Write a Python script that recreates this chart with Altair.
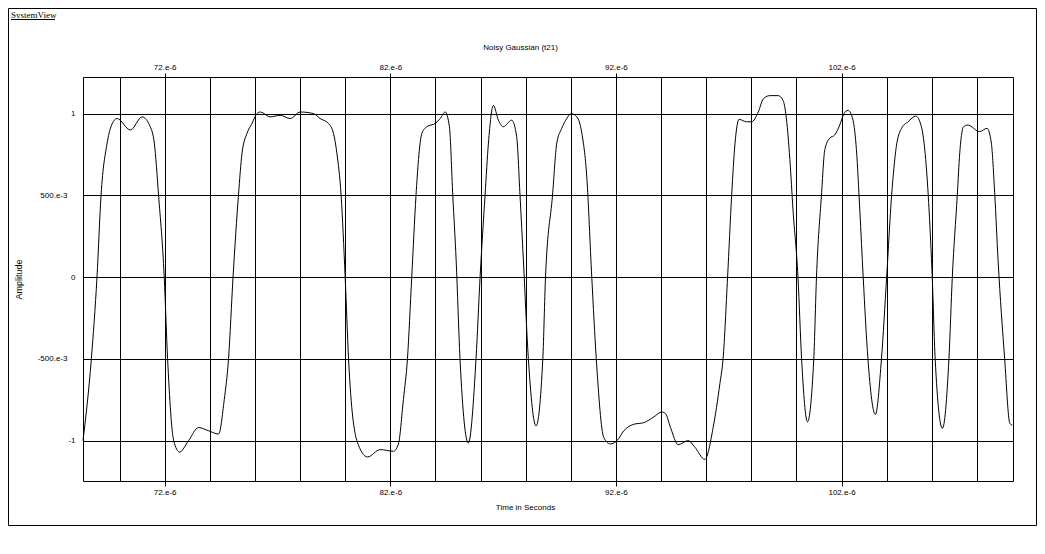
import altair as alt
import pandas as pd

# Time (in microseconds, i.e. value * 1e-6 s) and amplitude
times_us = [
    68.38, 68.75, 69.00, 69.18, 69.45, 69.62, 69.89, 70.48, 71.00, 71.36,
    71.54, 71.73, 71.98, 72.13, 72.40, 72.66, 73.06, 73.50, 73.95, 74.39,
    74.64, 74.83, 75.03, 75.27, 75.43, 75.65, 75.87, 76.09, 76.24, 76.68,
    77.12, 77.56, 78.01, 78.60, 78.89, 79.26, 79.48, 79.63, 79.82, 80.00,
    80.15, 80.52, 80.99, 81.55, 82.14, 82.36, 82.58, 82.76, 82.95, 83.14,
    83.25, 83.40, 83.62, 83.99, 84.21, 84.43, 84.62, 84.77, 84.92, 85.09,
    85.46, 85.80, 85.98, 86.20, 86.35, 86.57, 86.79, 87.01, 87.38, 87.60,
    87.75, 87.90, 88.12, 88.46, 88.76, 88.88, 89.19, 89.38, 89.60, 89.82,
    90.02, 90.27, 90.49, 90.71, 90.93, 91.13, 91.46, 91.75, 92.05, 92.35,
    92.79, 93.24, 93.68, 94.03, 94.20, 94.42, 94.76, 95.20, 95.50, 95.94,
    96.31, 96.61, 96.75, 96.95, 97.13, 97.28, 97.46, 97.79, 98.01, 98.31,
    98.53, 98.82, 99.19, 99.41, 99.53, 99.71, 99.85, 100.07, 100.23, 100.49,
    100.77, 100.89, 101.11, 101.26, 101.48, 101.70, 101.92, 102.11, 102.29, 102.51,
    102.66, 102.81, 102.96, 103.17, 103.50, 103.77, 104.00, 104.22, 104.43, 104.66,
    104.95, 105.29, 105.54, 105.73, 105.88, 106.02, 106.15, 106.47, 106.76, 106.91,
    107.13, 107.24, 107.41, 107.60, 108.12, 108.45, 108.64, 108.79, 108.94, 109.23,
    109.46, 109.57,
]
amplitude = [
    -1.00, -0.50, 0.00, 0.50, 0.82, 0.92, 0.97, 0.90, 0.98, 0.92,
    0.82, 0.50, 0.00, -0.50, -1.00, -1.07, -1.00, -0.92, -0.94, -0.96,
    -0.75, -0.50, 0.00, 0.50, 0.76, 0.88, 0.94, 1.00, 1.01, 0.98,
    0.99, 0.97, 1.01, 1.00, 0.97, 0.94, 0.88, 0.76, 0.50, 0.00,
    -0.50, -1.00, -1.10, -1.055, -1.065, -1.02, -0.75, -0.50, 0.00, 0.50,
    0.72, 0.88, 0.92, 0.94, 0.97, 1.01, 0.92, 0.50, 0.10, -0.50,
    -1.015, -0.50, 0.00, 0.50, 0.82, 1.05, 0.96, 0.92, 0.96, 0.86,
    0.50, 0.10, -0.50, -0.91, -0.50, 0.00, 0.50, 0.82, 0.91, 0.97,
    1.00, 0.98, 0.88, 0.61, 0.00, -0.50, -0.98, -1.02, -1.00, -0.94,
    -0.90, -0.89, -0.855, -0.825, -0.835, -0.92, -1.025, -1.00, -1.04, -1.115,
    -0.92, -0.65, -0.50, 0.00, 0.50, 0.82, 0.965, 0.95, 0.95, 1.01,
    1.09, 1.11, 1.11, 1.08, 1.00, 0.72, 0.41, 0.00, -0.50, -0.885,
    -0.50, 0.00, 0.50, 0.78, 0.85, 0.87, 0.93, 1.00, 1.02, 0.96,
    0.78, 0.41, 0.00, -0.50, -0.84, -0.50, 0.00, 0.50, 0.80, 0.91,
    0.95, 0.985, 0.92, 0.72, 0.41, 0.00, -0.50, -0.925, -0.50, 0.00,
    0.50, 0.76, 0.92, 0.93, 0.89, 0.91, 0.82, 0.51, 0.10, -0.50,
    -0.895, -0.905,
]

x_grid_us = [70, 72, 74, 76, 78, 80, 82, 84, 86, 88, 90, 92, 94, 96, 98, 100, 102, 104, 106, 108]
x_label_us = [72, 82, 92, 102]
y_ticks = [-1, -0.5, 0, 0.5, 1]
x_domain = [68.38, 109.6]
y_domain = [-1.247, 1.224]

FONT = "Liberation Sans"

df = pd.DataFrame({"t": times_us, "v": amplitude})

label_test = "indexof([" + ",".join(str(v) for v in x_label_us) + "], datum.value) >= 0"

xscale = alt.Scale(domain=x_domain, nice=False, zero=False)
yscale = alt.Scale(domain=y_domain, nice=False, zero=False)

y_axis = alt.Axis(
    values=y_ticks, grid=True, gridColor="black", gridOpacity=1, gridWidth=1,
    domain=False, ticks=False, tickSize=0,
    labelExpr="datum.value == 0.5 ? '500.e-3' : (datum.value == -0.5 ? '-500.e-3' : '' + datum.value)",
    labelPadding={"condition": {"test": "abs(datum.value) == 0.5", "value": 16}, "value": 8},
    labelFont=FONT, labelFontSize=8, labelColor="black", labelBaseline="middle",
    title="Amplitude", titleFont=FONT, titleFontSize=9, titleFontWeight="normal",
    titleColor="black", titleX=-65, titleY=202, titleBaseline="middle", titleAngle=270,
)

bottom_axis = alt.Axis(
    orient="bottom", values=x_grid_us, grid=True, gridColor="black", gridOpacity=1,
    gridWidth=1, domain=False, tickColor="black", tickSize=5, tickWidth=1,
    tickOpacity={"condition": {"test": label_test, "value": 1}, "value": 0},
    labelExpr=label_test + " ? datum.value + '.e-6' : ''",
    labelFont=FONT, labelFontSize=8, labelColor="black", labelPadding=2,
    labelOverlap=False, labelFlush=False,
    title="Time in Seconds", titleFont=FONT, titleFontSize=8, titleFontWeight="normal",
    titleColor="black", titleX=442, titleY=26, titleBaseline="middle",
)

top_axis = alt.Axis(
    orient="top", values=x_label_us, grid=False, domain=False,
    tickColor="black", tickSize=4, tickWidth=1,
    labelExpr="datum.value + '.e-6'",
    labelFont=FONT, labelFontSize=8, labelColor="black", labelPadding=2,
    labelOverlap=False, labelFlush=False,
    title="Noisy Gaussian (t21)", titleFont=FONT, titleFontSize=8, titleFontWeight="normal",
    titleColor="black", titleX=437, titleY=-30, titleBaseline="middle",
)

base = alt.Chart(df)

trace = base.mark_line(color="black", strokeWidth=1, interpolate="monotone").encode(
    x=alt.X("t:Q", scale=xscale, axis=bottom_axis),
    y=alt.Y("v:Q", scale=yscale, axis=y_axis),
)

top_layer = base.mark_line(opacity=0).encode(
    x=alt.X("t:Q", scale=xscale, axis=top_axis),
    y=alt.Y("v:Q", scale=yscale, axis=y_axis),
)

one = alt.Data(values=[{}])

frame = alt.Chart(one).mark_rect(fillOpacity=0, stroke="black", strokeWidth=1).encode(
    x=alt.value(-74.5), x2=alt.value(953.5), y=alt.value(-68.5), y2=alt.value(448.5)
)

header = alt.Chart(one).mark_text(
    text="SystemView", align="left", baseline="alphabetic",
    font="Liberation Serif", fontSize=9, color="black",
).encode(x=alt.value(-72), y=alt.value(-59.5))

underline = alt.Chart(one).mark_rule(color="black", strokeWidth=1).encode(
    x=alt.value(-72), x2=alt.value(-28), y=alt.value(-57.5)
)

chart = (
    alt.layer(frame, trace, top_layer, header, underline)
    .resolve_axis(x="independent")
    .properties(
        width=930,
        height=404,
        padding={"left": 75, "top": 69, "right": 24, "bottom": 50},
        autosize=alt.AutoSizeParams(type="none"),
        background="white",
    )
    .configure_view(stroke="black", strokeWidth=1)
)

chart.save("out.html", embed_options={"renderer": "svg", "actions": False})
